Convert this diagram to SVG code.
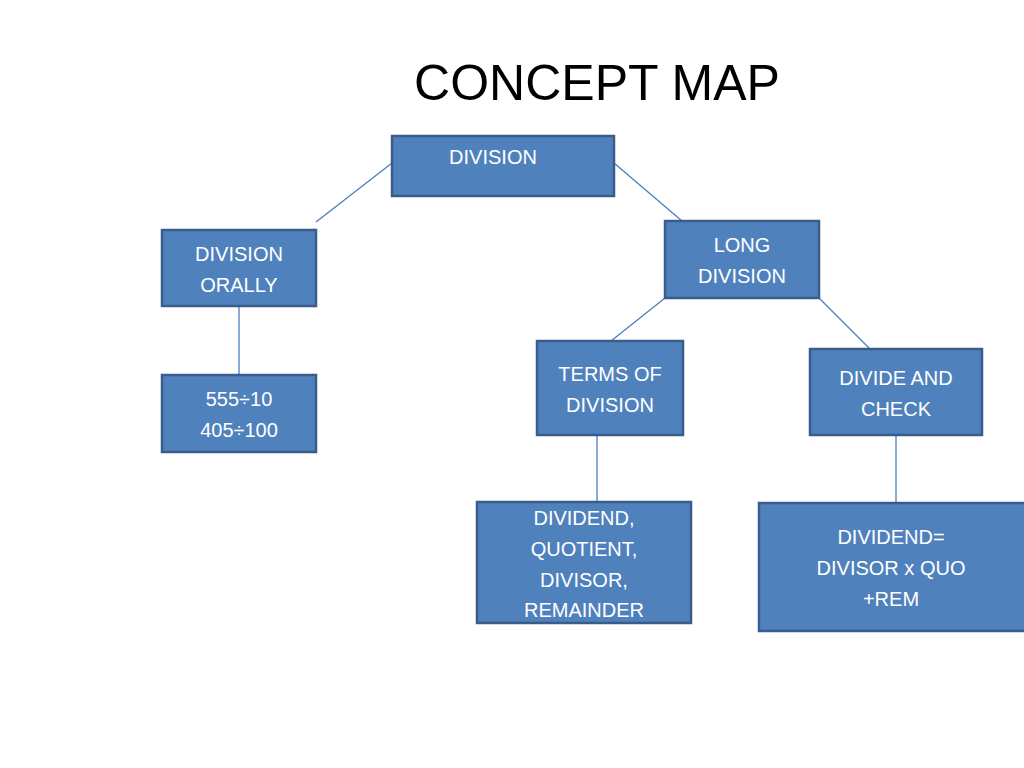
<svg xmlns="http://www.w3.org/2000/svg" width="1024" height="768" viewBox="0 0 1024 768">
<style>
.b{fill:#4F81BD;stroke:#385D8A;stroke-width:2.5}
.t{font-family:"Liberation Sans",Arial,sans-serif;font-size:20px;fill:#fff;text-anchor:middle}
.c{stroke:#4A7EBB;stroke-width:1.3;fill:none}
</style>
<rect width="1024" height="768" fill="#fff"/>
<text x="597" y="100" font-family="'Liberation Sans',Arial,sans-serif" font-size="50" text-anchor="middle" fill="#000">CONCEPT MAP</text>
<g id="connectors">
<line class="c" x1="316" y1="222" x2="392" y2="163"/>
<line class="c" x1="614" y1="163" x2="682" y2="221"/>
<line class="c" x1="239" y1="306" x2="239" y2="375"/>
<line class="c" x1="665" y1="298" x2="611" y2="341"/>
<line class="c" x1="819" y1="298" x2="870" y2="349"/>
<line class="c" x1="597" y1="435" x2="597" y2="502"/>
<line class="c" x1="896" y1="435" x2="896" y2="503"/>
</g>
<g id="division"><rect class="b" x="392" y="136" width="222" height="60"/><text class="t" x="493" y="164">DIVISION</text></g>
<g id="orally"><rect class="b" x="162" y="230" width="154" height="76"/><text class="t" x="239" y="261">DIVISION</text><text class="t" x="239" y="292">ORALLY</text></g>
<g id="long"><rect class="b" x="665" y="221" width="154" height="77"/><text class="t" x="742" y="252">LONG</text><text class="t" x="742" y="283">DIVISION</text></g>
<g id="examples"><rect class="b" x="162" y="375" width="154" height="77"/><text class="t" x="239" y="406">555÷10</text><text class="t" x="239" y="437">405÷100</text></g>
<g id="terms"><rect class="b" x="537" y="341" width="146" height="94"/><text class="t" x="610" y="381">TERMS OF</text><text class="t" x="610" y="412">DIVISION</text></g>
<g id="check"><rect class="b" x="810" y="349" width="172" height="86"/><text class="t" x="896" y="385">DIVIDE AND</text><text class="t" x="896" y="416">CHECK</text></g>
<g id="termslist"><rect class="b" x="477" y="502" width="214" height="121"/><text class="t" x="584" y="525">DIVIDEND,</text><text class="t" x="584" y="556">QUOTIENT,</text><text class="t" x="584" y="587">DIVISOR,</text><text class="t" x="584" y="617">REMAINDER</text></g>
<g id="formula"><rect class="b" x="759" y="503" width="268" height="128"/><text class="t" x="891" y="544">DIVIDEND=</text><text class="t" x="891" y="575">DIVISOR x QUO</text><text class="t" x="891" y="606">+REM</text></g>
</svg>
